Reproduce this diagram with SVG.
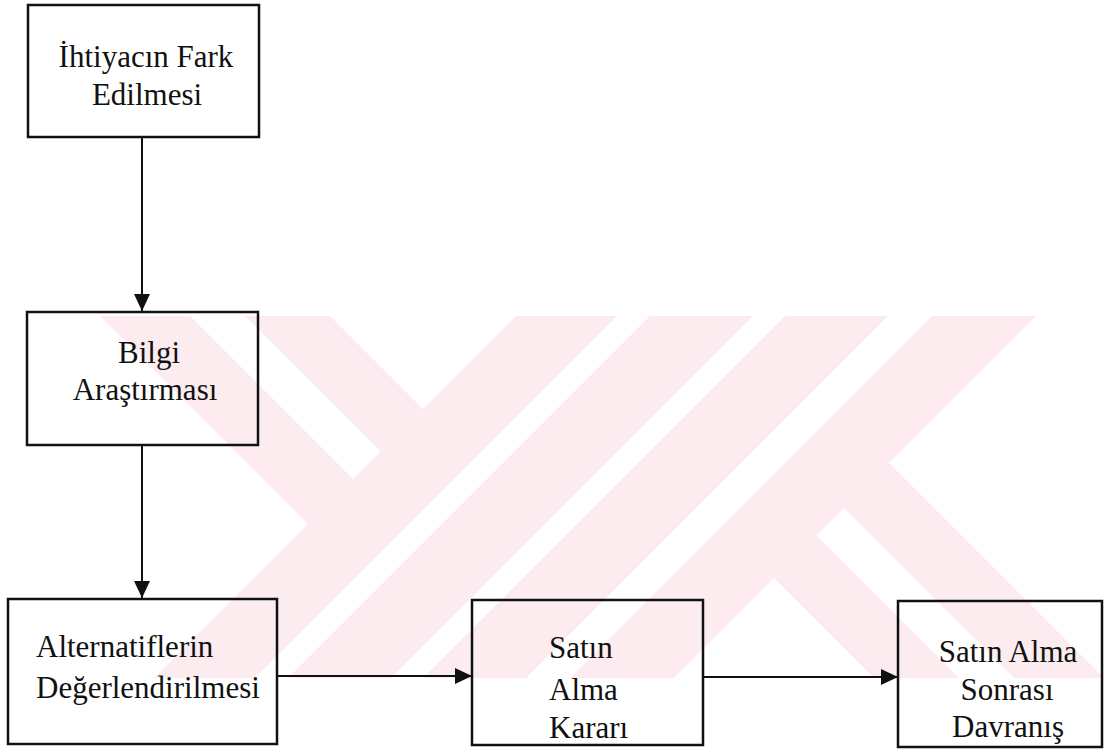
<svg xmlns="http://www.w3.org/2000/svg" width="1104" height="752" viewBox="0 0 1104 752">
  <defs>
    <style>
      .box { fill: none; stroke: #111; stroke-width: 2.5; }
      .lbl { font-family: "Liberation Serif", "Times New Roman", serif; font-size: 31px; fill: #111; }
      .mid { text-anchor: middle; }
      .edge { stroke: #111; stroke-width: 2; fill: none; marker-end: url(#arr); }
      .wm { fill: #FCECEF; }
    </style>
    <marker id="arr" markerUnits="userSpaceOnUse" markerWidth="17" markerHeight="16" refX="17" refY="8" orient="auto">
      <path d="M0,0 L17,8 L0,16 z" fill="#111"/>
    </marker>
    <clipPath id="band">
      <rect x="0" y="316" width="1104" height="362"/>
    </clipPath>
  </defs>
  <rect x="0" y="0" width="1104" height="752" fill="#fff"/>

  <g id="watermark" clip-path="url(#band)">
    <polygon class="wm" points="100,316 190,316 353,479 308,524"/>
    <polygon class="wm" points="245,316 330,316 423,409 380.5,451.5"/>
    <polygon class="wm" points="516,316 617,316 255,678 154,678"/>
    <polygon class="wm" points="650,316 753,316 391,678 288,678"/>
    <polygon class="wm" points="785,316 888,316 526,678 423,678"/>
    <polygon class="wm" points="932,316 1036,316 674,678 570,678"/>
    <polygon class="wm" points="774,578 816.5,535.5 959,678 874,678"/>
    <polygon class="wm" points="844,508 889,463 1104,678 1014,678"/>
  </g>

  <g id="connectors">
    <line class="edge" x1="142" y1="138" x2="142" y2="311"/>
    <line class="edge" x1="142" y1="445" x2="142" y2="598"/>
    <line class="edge" x1="277" y1="676" x2="472" y2="676"/>
    <line class="edge" x1="703" y1="677" x2="898" y2="677"/>
  </g>

  <g id="n1">
    <rect class="box" x="28" y="5" width="231" height="132"/>
    <text class="lbl mid" x="146" y="67">İhtiyacın Fark</text>
    <text class="lbl mid" x="147" y="105">Edilmesi</text>
  </g>
  <g id="n2">
    <rect class="box" x="27" y="312" width="231" height="133"/>
    <text class="lbl mid" x="149" y="363">Bilgi</text>
    <text class="lbl mid" x="145" y="400">Araştırması</text>
  </g>
  <g id="n3">
    <rect class="box" x="8" y="599" width="269" height="145"/>
    <text class="lbl" x="36" y="657">Alternatiflerin</text>
    <text class="lbl" x="36" y="698">Değerlendirilmesi</text>
  </g>
  <g id="n4">
    <rect class="box" x="472" y="600" width="231" height="145"/>
    <text class="lbl" x="549" y="658">Satın</text>
    <text class="lbl" x="549" y="700">Alma</text>
    <text class="lbl" x="549" y="738">Kararı</text>
  </g>
  <g id="n5">
    <rect class="box" x="898" y="601" width="204" height="146"/>
    <text class="lbl mid" x="1008" y="662">Satın Alma</text>
    <text class="lbl mid" x="1007" y="700">Sonrası</text>
    <text class="lbl mid" x="1008" y="737">Davranış</text>
  </g>
</svg>
